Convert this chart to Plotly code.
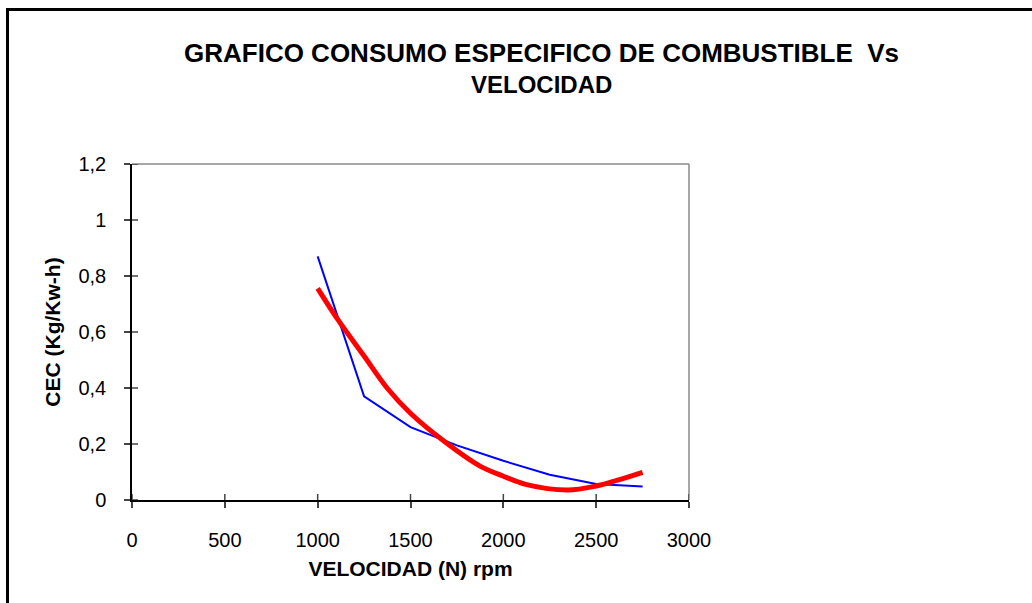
import plotly.graph_objects as go

# Data
velocidad = [1000, 1250, 1500, 1750, 2000, 2250, 2500, 2750]
cec = [0.87, 0.37, 0.26, 0.195, 0.14, 0.09, 0.057, 0.048]

trend_x = [1000, 1110, 1250, 1375, 1500, 1685, 1870, 2000, 2120, 2345, 2500, 2615, 2750]
trend_y = [0.756, 0.643, 0.514, 0.399, 0.31, 0.208, 0.123, 0.085, 0.056, 0.036, 0.05, 0.071, 0.099]

x_ticks = [0, 500, 1000, 1500, 2000, 2500, 3000]
y_ticks = [0, 0.2, 0.4, 0.6, 0.8, 1.0, 1.2]
y_tick_text = ["0", "0,2", "0,4", "0,6", "0,8", "1", "1,2"]

FONT = "Liberation Sans, Arial, sans-serif"

fig = go.Figure()
fig.add_trace(go.Scatter(x=velocidad, y=cec, mode="lines",
                         line=dict(color="#0000FF", width=2), showlegend=False))
fig.add_trace(go.Scatter(x=trend_x, y=trend_y, mode="lines",
                         line=dict(color="#FF0000", width=5, shape="spline", smoothing=1.0),
                         showlegend=False))

L, R, T, B = 132, 689, 164, 500
W, H = 1032, 603
pw, ph = R - L, B - T

def px(x):
    return (x - L) / pw

def py(y):
    return (B - y) / ph

shapes = [
    dict(type="line", xref="paper", yref="paper", x0=0, x1=1, y0=1, y1=1,
         line=dict(color="#888", width=1.5)),
    dict(type="line", xref="paper", yref="paper", x0=1, x1=1, y0=0, y1=1,
         line=dict(color="#888", width=1.5)),
    dict(type="line", xref="paper", yref="paper", x0=px(7.5), x1=px(7.5), y0=py(9.5), y1=py(610),
         line=dict(color="black", width=3)),
    dict(type="line", xref="paper", yref="paper", x0=px(6), x1=px(1040), y0=py(9.5), y1=py(9.5),
         line=dict(color="black", width=3)),
]
for t in x_ticks:
    shapes.append(dict(type="line", xref="x", yref="paper", x0=t, x1=t, y0=0, y1=6 / ph,
                       line=dict(color="#444", width=1.5)))
for t in y_ticks:
    shapes.append(dict(type="line", xref="paper", yref="y", x0=0, x1=6 / pw, y0=t, y1=t,
                       line=dict(color="#444", width=1.5)))

fig.update_layout(
    width=W, height=H,
    margin=dict(l=L, r=W - R, t=T, b=H - B),
    paper_bgcolor="white", plot_bgcolor="white",
    font=dict(family=FONT, size=20, color="black"),
    xaxis=dict(range=[0, 3000], tickvals=x_ticks, ticks="outside", ticklen=6,
               tickcolor="#444", tickwidth=1.5, showgrid=False, zeroline=False,
               showline=True, linecolor="black", linewidth=1.5,
               tickfont=dict(size=20), ticklabelstandoff=15,
               title=dict(text="<b>VELOCIDAD (N) rpm</b>", font=dict(size=21), standoff=12)),
    yaxis=dict(range=[0, 1.2], tickvals=y_ticks, ticktext=y_tick_text,
               ticks="outside", ticklen=6, tickcolor="#444", tickwidth=1.5,
               showgrid=False, zeroline=False,
               showline=True, linecolor="black", linewidth=1.5,
               tickfont=dict(size=20), ticklabelstandoff=14,
               title=dict(text="<b>CEC (Kg/Kw-h)</b>", font=dict(size=21), standoff=12)),
    annotations=[
        dict(text="<b>GRAFICO CONSUMO ESPECIFICO DE COMBUSTIBLE  Vs</b>",
             xref="paper", yref="paper", x=px(541), y=py(53), showarrow=False,
             xanchor="center", yanchor="middle", font=dict(size=26)),
        dict(text="<b>VELOCIDAD</b>",
             xref="paper", yref="paper", x=px(541), y=py(85), showarrow=False,
             xanchor="center", yanchor="middle", font=dict(size=24)),
    ],
    shapes=shapes,
)

fig.write_html("out.html")
